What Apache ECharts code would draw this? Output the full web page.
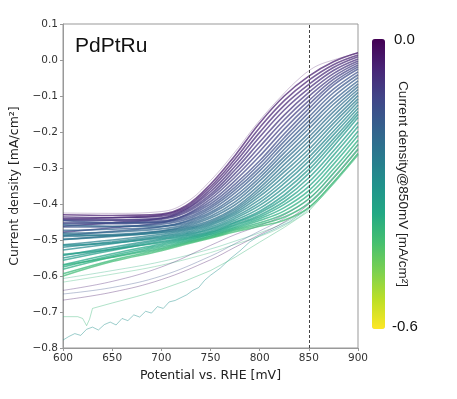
<!DOCTYPE html>
<html>
<head>
<meta charset="utf-8">
<script src="https://cdn.jsdelivr.net/npm/echarts@6/dist/echarts.min.js"></script>
<style>
  html, body { margin: 0; padding: 0; background: #fff; }
  #chart { width: 457px; height: 399px; }
</style>
</head>
<body>
<div id="chart"></div>
<script>
  // potentials (mV) at which the main bundle of curves was read
  const potentials = [600, 650, 700, 725, 750, 775, 800, 825, 850, 875, 900];

  // current density [mA/cm2] of each curve at those potentials, top (purple) to bottom (green)
  const bundle = [
    [-0.430, -0.432, -0.428, -0.405, -0.345, -0.265, -0.175, -0.100, -0.045, -0.005, 0.020],
    [-0.441, -0.438, -0.431, -0.409, -0.352, -0.275, -0.188, -0.113, -0.056, -0.013, 0.014],
    [-0.436, -0.438, -0.434, -0.413, -0.359, -0.285, -0.201, -0.126, -0.068, -0.021, 0.009],
    [-0.462, -0.452, -0.440, -0.416, -0.366, -0.295, -0.214, -0.139, -0.079, -0.029, 0.003],
    [-0.443, -0.444, -0.439, -0.420, -0.373, -0.305, -0.228, -0.153, -0.090, -0.038, -0.003],
    [-0.446, -0.446, -0.442, -0.424, -0.379, -0.315, -0.241, -0.166, -0.101, -0.046, -0.008],
    [-0.478, -0.466, -0.452, -0.430, -0.386, -0.325, -0.254, -0.179, -0.113, -0.054, -0.014],
    [-0.452, -0.452, -0.447, -0.431, -0.393, -0.335, -0.267, -0.192, -0.124, -0.062, -0.019],
    [-0.455, -0.455, -0.450, -0.435, -0.400, -0.345, -0.280, -0.205, -0.135, -0.070, -0.025],
    [-0.446, -0.452, -0.451, -0.439, -0.406, -0.353, -0.289, -0.216, -0.146, -0.081, -0.033],
    [-0.464, -0.463, -0.456, -0.443, -0.411, -0.361, -0.299, -0.226, -0.158, -0.091, -0.041],
    [-0.488, -0.476, -0.463, -0.448, -0.417, -0.369, -0.308, -0.237, -0.169, -0.102, -0.049],
    [-0.473, -0.470, -0.463, -0.450, -0.423, -0.378, -0.318, -0.248, -0.180, -0.113, -0.058],
    [-0.458, -0.462, -0.461, -0.454, -0.428, -0.386, -0.327, -0.258, -0.191, -0.123, -0.066],
    [-0.481, -0.478, -0.469, -0.458, -0.434, -0.394, -0.336, -0.269, -0.203, -0.134, -0.074],
    [-0.499, -0.488, -0.475, -0.462, -0.439, -0.402, -0.346, -0.279, -0.214, -0.144, -0.082],
    [-0.490, -0.485, -0.475, -0.465, -0.445, -0.410, -0.355, -0.290, -0.225, -0.155, -0.090],
    [-0.498, -0.490, -0.478, -0.468, -0.449, -0.415, -0.363, -0.301, -0.236, -0.166, -0.099],
    [-0.485, -0.487, -0.480, -0.471, -0.453, -0.420, -0.371, -0.311, -0.248, -0.176, -0.108],
    [-0.513, -0.500, -0.484, -0.474, -0.456, -0.425, -0.379, -0.322, -0.259, -0.187, -0.116],
    [-0.520, -0.505, -0.488, -0.478, -0.460, -0.430, -0.388, -0.333, -0.270, -0.198, -0.125],
    [-0.528, -0.510, -0.491, -0.481, -0.464, -0.435, -0.396, -0.343, -0.281, -0.208, -0.134],
    [-0.515, -0.508, -0.494, -0.484, -0.468, -0.440, -0.404, -0.354, -0.293, -0.219, -0.143],
    [-0.543, -0.520, -0.497, -0.487, -0.471, -0.445, -0.412, -0.364, -0.304, -0.229, -0.151],
    [-0.550, -0.525, -0.500, -0.490, -0.475, -0.450, -0.420, -0.375, -0.315, -0.240, -0.160],
    [-0.556, -0.529, -0.504, -0.493, -0.478, -0.453, -0.425, -0.384, -0.327, -0.253, -0.173],
    [-0.540, -0.526, -0.507, -0.496, -0.480, -0.457, -0.431, -0.393, -0.339, -0.265, -0.185],
    [-0.569, -0.538, -0.511, -0.498, -0.483, -0.460, -0.436, -0.401, -0.351, -0.278, -0.198],
    [-0.575, -0.543, -0.515, -0.501, -0.485, -0.464, -0.441, -0.410, -0.363, -0.290, -0.210],
    [-0.581, -0.547, -0.519, -0.504, -0.488, -0.467, -0.446, -0.419, -0.374, -0.303, -0.223],
    [-0.570, -0.548, -0.523, -0.507, -0.490, -0.470, -0.452, -0.428, -0.386, -0.315, -0.235],
    [-0.594, -0.556, -0.526, -0.509, -0.493, -0.473, -0.457, -0.436, -0.398, -0.328, -0.248],
    [-0.600, -0.560, -0.530, -0.512, -0.495, -0.477, -0.462, -0.445, -0.410, -0.340, -0.260]
  ];

  // stray curves below the bundle
  const strayX = [600, 650, 700, 750, 775, 800, 825, 850, 875, 900];
  const strays = [
    [-0.607, -0.585, -0.560, -0.525, -0.503, -0.480, -0.452, -0.408, -0.338, -0.258],
    [-0.617, -0.595, -0.570, -0.535, -0.512, -0.490, -0.460, -0.415, -0.345, -0.265],
    [-0.640, -0.615, -0.575, -0.515, -0.485, -0.460, -0.430, -0.385, -0.315, -0.235],
    [-0.650, -0.632, -0.600, -0.545, -0.510, -0.475, -0.440, -0.395, -0.325, -0.245],
    [-0.667, -0.645, -0.610, -0.555, -0.520, -0.485, -0.450, -0.400, -0.330, -0.250]
  ];
  // colour value of each stray curve, read from its tint
  const strayColour = [-0.38, -0.40, -0.05, -0.15, -0.03];

  // light teal curve with the dip near 625 mV
  const dipX = [600, 615, 620, 624, 627, 630, 650, 675, 700, 725, 750, 775, 800, 825, 850, 875, 900];
  const dipY = [-0.713, -0.713, -0.718, -0.738, -0.720, -0.690, -0.675, -0.657, -0.637, -0.613, -0.585, -0.548, -0.506, -0.465, -0.420, -0.345, -0.265];

  // noisy grey curve at the bottom
  const noisyX = [600, 606, 612, 618, 624, 630, 636, 642, 648, 654, 660, 666, 672, 678, 684, 690, 696, 702, 708, 714, 720, 726, 732, 738, 744, 750, 760, 770, 780, 790, 800, 815, 830, 850, 875, 900];
  const noisyY = [-0.778, -0.768, -0.760, -0.765, -0.748, -0.742, -0.750, -0.735, -0.728, -0.736, -0.718, -0.724, -0.708, -0.714, -0.698, -0.703, -0.685, -0.690, -0.672, -0.668, -0.660, -0.652, -0.640, -0.632, -0.612, -0.598, -0.578, -0.552, -0.530, -0.505, -0.488, -0.470, -0.450, -0.412, -0.342, -0.262];

  // faint curve with a small bump above the top edge near 850 mV
  const bumpX = [600, 650, 700, 725, 750, 775, 800, 825, 840, 850, 860, 875, 900];
  const bumpY = [-0.425, -0.426, -0.421, -0.396, -0.335, -0.255, -0.168, -0.092, -0.052, -0.030, -0.014, 0.000, 0.020];

  const viridis = ['#440154', '#482475', '#414487', '#355f8d', '#2a788e', '#21918c', '#22a884', '#44bf70', '#7ad151', '#bddf26', '#fde725'];

  function hexRgb(h) {
    return [parseInt(h.slice(1, 3), 16), parseInt(h.slice(3, 5), 16), parseInt(h.slice(5, 7), 16)];
  }
  // colour of a current density on the 0 .. -0.6 colour bar
  function colourOf(j) {
    let t = Math.min(Math.max(-j / 0.6, 0), 1) * (viridis.length - 1);
    let i = Math.min(Math.floor(t), viridis.length - 2);
    let f = t - i;
    let a = hexRgb(viridis[i]), b = hexRgb(viridis[i + 1]);
    let c = a.map((v, k) => Math.round(v + (b[k] - v) * f));
    return 'rgb(' + c.join(',') + ')';
  }

  function curve(xs, ys, j, width, opacity, smooth) {
    return {
      type: 'line',
      data: xs.map((x, i) => [x, ys[i]]),
      showSymbol: false,
      silent: true,
      smooth: smooth,
      lineStyle: {color: colourOf(j), width: width, opacity: opacity}
    };
  }

  let series = [];
  series.push(curve(noisyX, noisyY, -0.30, 1, 0.45, false));
  series.push(curve(dipX, dipY, -0.40, 1, 0.4, false));
  strays.forEach((s, i) => series.push(curve(strayX, s, strayColour[i], 1, 0.35, 0.4)));
  bundle.forEach(c => series.push(curve(potentials, c, c[8], 1.6, 0.72, 0.4)));
  series.push(curve(bumpX, bumpY, -0.02, 1, 0.25, 0.4));

  // dashed marker at 850 mV
  series.push({
    type: 'line',
    data: [],
    silent: true,
    markLine: {
      silent: true,
      symbol: 'none',
      label: {show: false},
      lineStyle: {color: '#444', width: 1, type: [3, 2]},
      data: [{xAxis: 850}]
    }
  });
  // empty carrier for the colour bar
  series.push({type: 'scatter', data: []});

  const chart = echarts.init(document.getElementById('chart'));
  const minus = v => (v < 0 ? '\u2212' : '') + Math.abs(v).toFixed(1);

  chart.setOption({
    animation: false,
    backgroundColor: '#fff',
    grid: {left: 58, right: 99, top: 24, bottom: 51, show: true, borderColor: '#999', borderWidth: 1},
    xAxis: {
      type: 'value',
      min: 600, max: 900, interval: 50,
      name: 'Potential vs. RHE [mV]',
      nameLocation: 'middle',
      nameGap: 20,
      nameTextStyle: {fontFamily: 'DejaVu Sans', fontSize: 12.5, color: '#222'},
      axisLine: {onZero: false, lineStyle: {color: '#999'}},
      axisTick: {length: 3, lineStyle: {color: '#999'}},
      axisLabel: {fontFamily: 'DejaVu Sans', fontSize: 10.5, color: '#333', margin: 5},
      splitLine: {show: false}
    },
    yAxis: {
      type: 'value',
      min: -0.8, max: 0.1, interval: 0.1,
      name: 'Current density [mA/cm\u00b2]',
      nameLocation: 'middle',
      nameGap: 42,
      nameTextStyle: {fontFamily: 'DejaVu Sans', fontSize: 12.5, color: '#222'},
      axisLine: {onZero: false, lineStyle: {color: '#999'}},
      axisTick: {length: 3, lineStyle: {color: '#999'}},
      axisLabel: {fontFamily: 'DejaVu Sans', fontSize: 10.5, color: '#333', margin: 5, formatter: minus},
      splitLine: {show: false}
    },
    visualMap: {
      type: 'continuous',
      min: -0.6, max: 0,
      seriesIndex: series.length - 1,
      left: 372, top: 39,
      padding: 0,
      itemWidth: 13, itemHeight: 290,
      calculable: false,
      inRange: {color: viridis.slice().reverse()}
    },
    graphic: [
      {type: 'text', left: 75, top: 36, style: {text: 'PdPtRu', font: '21px "Liberation Sans"', fill: '#111'}},
      {type: 'text', left: 394, top: 32, style: {text: '0.0', font: '15px "Liberation Sans"', fill: '#111'}},
      {type: 'text', left: 392, top: 319, style: {text: '-0.6', font: '15px "Liberation Sans"', fill: '#111'}},
      {
        type: 'text', x: 403, y: 184, rotation: -Math.PI / 2,
        style: {text: 'Current density@850mV [mA/cm\u00b2]', font: '13.5px "Liberation Sans"', fill: '#222', align: 'center', verticalAlign: 'middle'}
      }
    ],
    series: series
  });
</script>
</body>
</html>
